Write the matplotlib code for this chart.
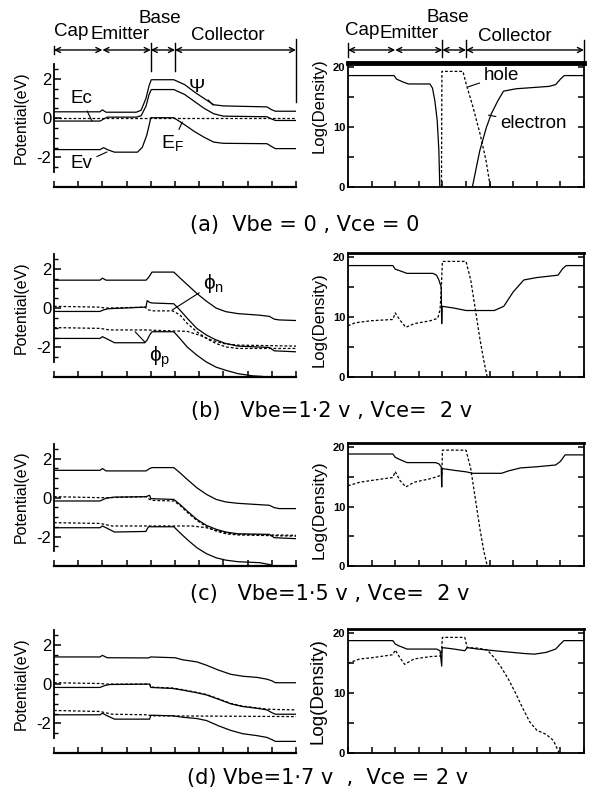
import matplotlib.pyplot as plt
from matplotlib.ticker import MultipleLocator, FixedLocator
import matplotlib.transforms as mtransforms

plt.rcParams['font.family'] = ['Liberation Sans', 'DejaVu Sans']
plt.rcParams['axes.unicode_minus'] = False

# ---- (a) Vbe = 0, Vce = 0 ----
a_psi_x = [0, 1.9, 2.0, 2.15, 3.4, 3.6, 3.8, 3.93, 4.02, 4.95, 5.4, 5.8, 6.2, 6.6, 7.0, 8.8, 9.0, 9.15, 10]
a_psi_y = [0.32, 0.32, 0.42, 0.3, 0.3, 0.4, 1.0, 1.65, 1.95, 1.95, 1.7, 1.33, 1.0, 0.68, 0.62, 0.57, 0.42, 0.35, 0.35]
a_ec_x = [0, 1.9, 2.05, 2.2, 3.4, 3.6, 3.8, 3.93, 4.02, 4.95, 5.4, 5.8, 6.2, 6.6, 7.0, 8.8, 9.0, 9.15, 10]
a_ec_y = [-0.15, -0.15, -0.05, 0.05, 0.05, 0.12, 0.6, 1.2, 1.45, 1.45, 1.2, 0.85, 0.5, 0.22, 0.1, 0.07, -0.05, -0.12, -0.12]
a_ev_x = [0, 1.9, 2.05, 2.2, 2.5, 3.45, 3.65, 3.83, 3.93, 4.0, 4.95, 5.4, 5.8, 6.2, 6.6, 7.0, 8.8, 9.0, 9.15, 10]
a_ev_y = [-1.6, -1.6, -1.5, -1.6, -1.73, -1.73, -1.48, -0.88, -0.37, 0.02, 0.02, -0.34, -0.68, -0.97, -1.22, -1.28, -1.3, -1.45, -1.55, -1.55]
a_ef_x = [0, 10]
a_ef_y = [0, 0]

a_n1_x = [0, 1.95, 2.06, 2.35, 2.56, 3.47, 3.58, 3.68, 3.78, 3.85, 3.89]
a_n1_y = [18.6, 18.6, 18.0, 17.5, 17.2, 17.2, 16.5, 14.4, 11.1, 6.1, 0]
a_n2_x = [5.27, 5.58, 5.86, 6.07, 6.35, 6.59, 7.12, 8.53, 8.8, 9.0, 9.16, 10]
a_n2_y = [0, 6.0, 9.9, 12.2, 14.4, 16.0, 16.4, 16.8, 17.1, 18.0, 18.6, 18.6]
a_p_x = [3.96, 3.98, 4.87, 5.0, 5.3, 5.6, 5.85, 6.03]
a_p_y = [0, 19.3, 19.3, 17.3, 13.3, 8.8, 4.4, 0]

# ---- (b) Vbe = 1.2 V, Vce = 2 V ----
b_ec_x = [0, 1.9, 2.0, 2.15, 3.8, 3.9, 4.05, 4.95, 5.2, 5.5, 5.9, 6.3, 6.7, 7.1, 7.6, 8.5, 8.9, 9.1, 9.3, 10]
b_ec_y = [1.42, 1.42, 1.52, 1.42, 1.42, 1.54, 1.83, 1.83, 1.54, 1.2, 0.75, 0.35, 0.0, -0.18, -0.28, -0.36, -0.42, -0.56, -0.6, -0.63]
b_e2_x = [0, 1.9, 2.05, 2.25, 3.8, 3.85, 3.95, 4.05, 4.95, 5.2, 5.5, 5.9, 6.3, 6.7, 7.1, 7.6, 8.9, 9.1, 10]
b_e2_y = [-0.17, -0.17, -0.09, -0.03, 0.05, 0.38, 0.29, 0.26, 0.22, -0.09, -0.51, -1.03, -1.37, -1.62, -1.8, -1.93, -2.0, -2.17, -2.22]
b_fn_x = [0, 1.9, 2.1, 3.75, 3.9, 4.1, 4.9, 5.2, 5.5, 5.9, 6.3, 6.7, 7.1, 7.6, 10]
b_fn_y = [0.09, 0.05, 0.0, 0.05, -0.09, -0.14, -0.14, -0.34, -0.77, -1.2, -1.54, -1.8, -1.97, -2.05, -2.05]
b_fp_x = [0, 1.9, 2.3, 3.8, 4.9, 5.5, 6.0, 6.5, 7.0, 7.6, 10]
b_fp_y = [-0.99, -1.03, -1.11, -1.11, -1.16, -1.18, -1.37, -1.62, -1.8, -1.88, -1.93]
b_ev_x = [0, 1.9, 2.0, 2.15, 2.5, 3.75, 3.85, 3.95, 4.05, 4.95, 5.2, 5.5, 5.9, 6.3, 6.7, 7.1, 7.6, 8.2, 8.6]
b_ev_y = [-1.54, -1.54, -1.45, -1.54, -1.76, -1.76, -1.62, -1.37, -1.2, -1.2, -1.54, -1.97, -2.39, -2.74, -3.0, -3.16, -3.33, -3.44, -3.47]

b_n_x = [0, 1.9, 2.0, 2.15, 2.5, 3.6, 3.75, 3.85, 3.95, 3.97, 3.99, 4.5, 5.0, 6.2, 6.6, 7.0, 7.45, 8.0, 8.9, 9.1, 9.25, 10]
b_n_y = [18.6, 18.6, 18.0, 17.8, 17.3, 17.3, 17.0, 16.2, 15.0, 8.9, 11.8, 11.5, 11.1, 11.1, 11.8, 14.2, 16.2, 16.6, 17.0, 18.1, 18.6, 18.6]
b_p_x = [0, 0.3, 1.0, 1.9, 2.0, 2.2, 2.45, 2.8, 3.5, 3.8, 3.9, 3.95, 4.0, 5.0, 5.2, 5.4, 5.6, 5.75, 5.9]
b_p_y = [8.55, 9.05, 9.4, 9.6, 10.7, 9.5, 8.3, 8.9, 9.4, 9.8, 11.2, 14.5, 19.3, 19.3, 16.2, 11.2, 6.1, 2.8, 0]

# ---- (c) Vbe = 1.5 V, Vce = 2 V ----
c_ec_x = [0, 1.9, 2.0, 2.15, 3.8, 3.95, 4.05, 4.95, 5.2, 5.5, 5.9, 6.3, 6.7, 7.1, 7.6, 8.9, 9.1, 9.3, 10]
c_ec_y = [1.4, 1.4, 1.49, 1.37, 1.37, 1.49, 1.54, 1.54, 1.28, 0.94, 0.51, 0.17, -0.09, -0.22, -0.29, -0.39, -0.51, -0.56, -0.56]
c_e2_x = [0, 1.9, 2.15, 2.5, 3.8, 3.95, 4.0, 4.95, 5.2, 5.5, 5.9, 6.3, 6.7, 7.1, 7.6, 8.9, 9.1, 10]
c_e2_y = [-0.17, -0.17, -0.03, 0.03, 0.05, 0.12, -0.05, -0.09, -0.34, -0.68, -1.11, -1.42, -1.62, -1.76, -1.85, -1.88, -2.05, -2.1]
c_fn_x = [0, 1.9, 2.2, 3.8, 3.95, 4.1, 4.95, 5.2, 5.5, 5.9, 6.3, 6.7, 7.1, 7.6, 10]
c_fn_y = [0.05, 0.0, 0.0, 0.05, -0.09, -0.14, -0.17, -0.39, -0.74, -1.16, -1.49, -1.71, -1.85, -1.91, -1.97]
c_fp_x = [0, 1.9, 2.4, 5.7, 6.3, 6.7, 7.1, 7.6, 10]
c_fp_y = [-1.28, -1.32, -1.45, -1.45, -1.54, -1.68, -1.8, -1.88, -1.93]
c_ev_x = [0, 1.9, 2.0, 2.15, 2.5, 3.8, 3.9, 4.95, 5.2, 5.5, 5.9, 6.3, 6.7, 7.1, 7.6, 8.5, 9.0]
c_ev_y = [-1.54, -1.54, -1.45, -1.54, -1.76, -1.73, -1.49, -1.49, -1.79, -2.14, -2.56, -2.87, -3.08, -3.2, -3.28, -3.33, -3.45]

c_n_x = [0, 1.9, 2.0, 2.15, 2.5, 3.7, 3.85, 3.95, 3.97, 3.99, 4.5, 5.0, 5.3, 6.5, 6.8, 7.3, 8.0, 8.8, 9.0, 9.2, 10]
c_n_y = [18.85, 18.85, 18.3, 18.0, 17.4, 17.4, 17.2, 16.7, 13.3, 16.4, 16.1, 15.85, 15.6, 15.6, 16.0, 16.5, 16.7, 17.0, 17.6, 18.7, 18.7]
c_p_x = [0, 0.5, 1.0, 1.9, 2.0, 2.2, 2.45, 2.8, 3.5, 3.9, 3.98, 4.0, 5.0, 5.2, 5.4, 5.6, 5.75, 5.9]
c_p_y = [13.5, 14.1, 14.4, 14.9, 15.9, 14.4, 13.3, 14.1, 14.7, 15.2, 15.4, 19.5, 19.5, 16.4, 11.2, 6.0, 2.6, 0]

# ---- (d) Vbe = 1.7 V, Vce = 2 V ----
d_ec_x = [0, 1.9, 2.0, 2.2, 3.9, 4.0, 5.0, 5.3, 5.9, 6.3, 6.8, 7.3, 7.8, 8.4, 8.8, 9.0, 9.15, 10]
d_ec_y = [1.38, 1.38, 1.46, 1.34, 1.33, 1.38, 1.34, 1.24, 1.13, 0.96, 0.71, 0.5, 0.4, 0.34, 0.25, 0.17, 0.07, 0.07]
d_e2_x = [0, 1.9, 2.1, 2.3, 3.95, 4.0, 4.9, 5.3, 5.9, 6.3, 6.8, 7.3, 7.8, 8.4, 8.8, 9.0, 9.15, 10]
d_e2_y = [-0.17, -0.17, -0.07, -0.02, 0.0, -0.17, -0.22, -0.3, -0.44, -0.55, -0.77, -1.0, -1.14, -1.23, -1.31, -1.45, -1.53, -1.53]
d_fn_x = [0, 1.9, 2.2, 3.95, 4.0, 4.9, 5.3, 5.9, 6.3, 6.8, 7.3, 7.8, 8.4, 8.8, 9.2, 10]
d_fn_y = [0.07, 0.03, 0.0, 0.0, -0.15, -0.2, -0.28, -0.42, -0.53, -0.75, -0.98, -1.12, -1.21, -1.27, -1.29, -1.31]
d_fp_x = [0, 1.9, 2.4, 3.9, 4.0, 10]
d_fp_y = [-1.34, -1.39, -1.53, -1.56, -1.61, -1.65]
d_ev_x = [0, 1.9, 2.0, 2.2, 2.5, 3.95, 4.0, 4.9, 5.3, 5.9, 6.3, 6.8, 7.3, 7.8, 8.4, 8.8, 9.0, 9.15, 10]
d_ev_y = [-1.56, -1.56, -1.48, -1.61, -1.78, -1.78, -1.58, -1.61, -1.68, -1.75, -1.85, -2.12, -2.35, -2.52, -2.62, -2.71, -2.82, -2.91, -2.91]

d_n_x = [0, 1.9, 2.0, 2.15, 2.5, 3.75, 3.9, 3.97, 3.99, 4.5, 4.95, 5.05, 5.5, 6.5, 7.5, 7.9, 8.4, 8.8, 9.0, 9.15, 10]
d_n_y = [18.76, 18.76, 18.2, 17.9, 17.35, 17.35, 17.07, 14.5, 17.6, 17.35, 17.07, 17.6, 17.35, 16.96, 16.6, 16.5, 16.8, 17.35, 18.2, 18.76, 18.76]
d_p_x = [0, 0.5, 1.0, 1.9, 2.0, 2.2, 2.4, 2.8, 3.5, 3.95, 4.0, 4.95, 5.05, 5.5, 5.9, 6.2, 6.5, 6.8, 7.1, 7.4, 7.7, 8.0, 8.4, 8.7, 8.95]
d_p_y = [15.0, 15.7, 15.9, 16.4, 17.2, 15.9, 14.8, 15.7, 16.1, 16.2, 19.3, 19.3, 17.6, 17.5, 17.2, 15.9, 14.25, 12.3, 10.0, 7.5, 5.2, 3.8, 3.1, 2.1, 0]

captions = ['(a)  Vbe = 0 , Vce = 0',
            '(b)   Vbe=1·2 v , Vce=  2 v',
            '(c)   Vbe=1·5 v , Vce=  2 v',
            '(d) Vbe=1·7 v  ,  Vce = 2 v']
regions = ['Cap', 'Emitter', 'Base', 'Collector']
region_edges = [0, 2, 4, 5, 10]

W, H = 589, 798
fig = plt.figure(figsize=(W / 100, H / 100), dpi=100)

rows_px = [(63, 187), (253, 377), (443, 566), (629, 753)]
cap_pos = [(305, 225), (332, 411), (330, 594), (328, 778)]
logy = [0.66, 0.46, 0.46, 0.5]
logsize = [12, 12, 12.5, 13.5]

band_sets = [
    [(a_psi_x, a_psi_y, '-'), (a_ec_x, a_ec_y, '-'), (a_ev_x, a_ev_y, '-'), (a_ef_x, a_ef_y, '--')],
    [(b_ec_x, b_ec_y, '-'), (b_e2_x, b_e2_y, '-'), (b_fn_x, b_fn_y, '--'), (b_fp_x, b_fp_y, '--'), (b_ev_x, b_ev_y, '-')],
    [(c_ec_x, c_ec_y, '-'), (c_e2_x, c_e2_y, '-'), (c_fn_x, c_fn_y, '--'), (c_fp_x, c_fp_y, '--'), (c_ev_x, c_ev_y, '-')],
    [(d_ec_x, d_ec_y, '-'), (d_e2_x, d_e2_y, '-'), (d_fn_x, d_fn_y, '--'), (d_fp_x, d_fp_y, '--'), (d_ev_x, d_ev_y, '-')],
]
dens_sets = [
    [(a_n1_x, a_n1_y, '-'), (a_n2_x, a_n2_y, '-'), (a_p_x, a_p_y, '--')],
    [(b_n_x, b_n_y, '-'), (b_p_x, b_p_y, '--')],
    [(c_n_x, c_n_y, '-'), (c_p_x, c_p_y, '--')],
    [(d_n_x, d_n_y, '-'), (d_p_x, d_p_y, '--')],
]


def add_ax(x0, x1, top, bot):
    return fig.add_axes([x0 / W, 1 - bot / H, (x1 - x0) / W, (bot - top) / H])


def draw_line(ax, x, y, ls):
    if ls == '--':
        ax.plot(x, y, color='black', lw=0.9, ls=(0, (2.2, 1.6)))
    else:
        ax.plot(x, y, color='black', lw=0.9)


def region_header(ax, label_pos, arrow_y, ticks):
    tr = mtransforms.blended_transform_factory(ax.transData, ax.transAxes)
    for i in range(4):
        ax.annotate('', xy=(region_edges[i], arrow_y), xytext=(region_edges[i + 1], arrow_y),
                    xycoords=tr, textcoords=tr,
                    arrowprops=dict(arrowstyle='<->', lw=1.0, color='black',
                                    shrinkA=0, shrinkB=0, mutation_scale=9))
    for name, (xv, yv) in zip(regions, label_pos):
        ax.text(xv, yv, name, transform=tr, ha='center', va='center', fontsize=13.5, clip_on=False)
    for xv, y0, y1 in ticks:
        ax.plot([xv, xv], [y0, y1], transform=tr, color='black', lw=1.0, clip_on=False)


lead = dict(arrowstyle='-', lw=0.8, shrinkA=1, shrinkB=0)

for r in range(4):
    top, bot = rows_px[r]

    # band diagram
    ax = add_ax(54, 296, top, bot)
    for x, y, ls in band_sets[r]:
        draw_line(ax, x, y, ls)
    ax.set_xlim(0, 10)
    ax.set_ylim(-3.5, 2.8)
    ax.spines['top'].set_visible(False)
    ax.spines['right'].set_visible(False)
    ax.spines['left'].set_bounds(-2.75, 2.75)
    ax.spines['left'].set_linewidth(1.3)
    ax.spines['bottom'].set_linewidth(1.6)
    ax.set_yticks([-2, 0, 2])
    ax.set_yticklabels(['-2', '0', '2'])
    ax.yaxis.set_minor_locator(FixedLocator([-2.5, -1.5, -1, -0.5, 0.5, 1, 1.5, 2.5]))
    ax.set_xticks(range(11))
    ax.set_xticklabels([])
    ax.tick_params(axis='y', which='major', direction='in', length=5, width=1.1, pad=2, labelsize=12)
    ax.tick_params(axis='y', which='minor', direction='in', length=3, width=1.0)
    ax.tick_params(axis='x', direction='in', length=4, width=1.1)
    ax.set_ylabel('Potential(eV)', fontsize=11.5)
    ax.yaxis.set_label_coords(-0.105, 0.56)
    ax.patch.set_alpha(0)

    if r == 0:
        region_header(ax, [(0.7, 1.258), (2.73, 1.226), (4.38, 1.355), (7.2, 1.218)], 1.105,
                      [(0, 1.07, 1.14), (4, 0.935, 1.165), (5, 0.935, 1.165), (10, 0.685, 1.19)])
        ax.annotate('Ec', xy=(1.57, -0.15), xytext=(1.12, 1.0), fontsize=13.5, ha='center', va='center',
                    arrowprops=lead)
        ax.annotate('Ev', xy=(2.19, -1.72), xytext=(1.15, -2.3), fontsize=13.5, ha='center', va='center',
                    arrowprops=lead)
        ax.annotate('E$_\\mathregular{F}$', xy=(5.3, -0.2), xytext=(4.9, -1.3), fontsize=14, ha='center',
                    va='center', arrowprops=lead)
        ax.annotate('Ψ', xy=(6.57, 0.66), xytext=(5.9, 1.55), fontsize=14, ha='center', va='center',
                    arrowprops=lead)
    if r == 1:
        ax.annotate('ϕ$_\\mathregular{n}$', xy=(4.88, -0.1), xytext=(6.6, 1.25), fontsize=15, ha='center',
                    va='center', arrowprops=lead)
        ax.annotate('ϕ$_\\mathregular{p}$', xy=(3.35, -1.2), xytext=(4.35, -2.5), fontsize=15, ha='center',
                    va='center', arrowprops=lead)

    # carrier density
    ax2 = add_ax(348, 584, top, bot)
    for x, y, ls in dens_sets[r]:
        draw_line(ax2, x, y, ls)
    ax2.set_xlim(0, 10)
    ax2.set_ylim(0, 20.7)
    for s in ax2.spines.values():
        s.set_linewidth(1.3)
    ax2.spines['top'].set_linewidth(3.5 if r == 0 else 2.0)
    ax2.set_yticks([0, 10, 20])
    ax2.yaxis.set_minor_locator(MultipleLocator(5))
    ax2.set_xticks(range(11))
    ax2.set_xticklabels([])
    ax2.tick_params(axis='y', which='both', direction='in', right=True, length=4, width=1.1,
                    pad=2, labelsize=8)
    ax2.tick_params(axis='x', direction='in', length=4, width=1.1)
    for t in ax2.get_yticklabels():
        t.set_fontweight('bold')
    ax2.set_ylabel('Log(Density)', fontsize=logsize[r])
    ax2.yaxis.set_label_coords(-0.09, logy[r])

    if r == 0:
        region_header(ax2, [(0.6, 1.266), (2.6, 1.234), (4.24, 1.363), (7.05, 1.21)], 1.105,
                      [(0, 1.05, 1.16), (4, 1.048, 1.185), (5, 1.048, 1.185), (10, 1.024, 1.185)])
        ax2.annotate('hole', xy=(5.08, 16.7), xytext=(6.5, 18.6), fontsize=13.5, ha='center', va='center',
                     arrowprops=lead)
        ax2.annotate('electron', xy=(5.95, 12.0), xytext=(7.85, 10.6), fontsize=13.5, ha='center',
                     va='center', arrowprops=lead)

    cx, cy = cap_pos[r]
    fig.text(cx / W, 1 - cy / H, captions[r], ha='center', va='center', fontsize=15,
             family='DejaVu Sans')

fig.savefig('out.png', dpi=100)
